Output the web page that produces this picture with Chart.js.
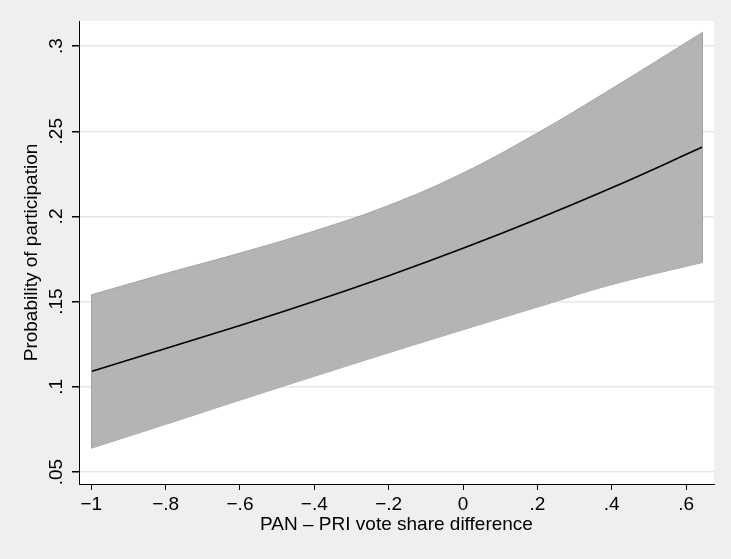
<!DOCTYPE html>
<html>
<head>
<meta charset="utf-8">
<script src="https://cdn.jsdelivr.net/npm/chart.js@4"></script>
<style>
  body { margin: 0; background: #efefef; }
  #wrap { width: 731px; height: 559px; }
</style>
</head>
<body>
<div id="wrap"><canvas id="myChart1" width="731" height="559"></canvas></div>
<script>
// values
const xValues = [-1, -0.8, -0.6, -0.4, -0.2, 0, 0.2, 0.4, 0.644];
const meanProb = [0.109, 0.1225, 0.136, 0.1502, 0.1652, 0.1813, 0.1985, 0.2168, 0.2407];
const upperCI = [0.154, 0.1665, 0.1785, 0.1915, 0.2065, 0.2255, 0.249, 0.275, 0.308];
const lowerCI = [0.064, 0.078, 0.0922, 0.1062, 0.120, 0.1335, 0.1468, 0.160, 0.173];
const xTicks = [-1, -0.8, -0.6, -0.4, -0.2, 0, 0.2, 0.4, 0.6];
const xTickLabels = ['\u22121', '\u2212.8', '\u2212.6', '\u2212.4', '\u2212.2', '0', '.2', '.4', '.6'];
const yTicks = [0.05, 0.1, 0.15, 0.2, 0.25, 0.3];
const yTickLabels = ['.05', '.1', '.15', '.2', '.25', '.3'];

document.addEventListener('DOMContentLoaded', function () {
    const font = "'Liberation Sans', Arial, sans-serif";
    const pts = arr => xValues.map((x, i) => ({ x: x, y: arr[i] }));

    // white plot region behind everything
    const plotBg = {
        id: 'plotBg',
        beforeDraw(chart) {
            const a = chart.chartArea, ctx = chart.ctx;
            ctx.save();
            ctx.fillStyle = '#ffffff';
            ctx.fillRect(a.left, a.top, a.right - a.left, a.bottom - a.top);
            ctx.restore();
        }
    };

    // close the band at both ends, like the rarea outline
    const bandEdges = {
        id: 'bandEdges',
        afterDatasetsDraw(chart) {
            const sx = chart.scales.x, sy = chart.scales.y, ctx = chart.ctx;
            ctx.save();
            ctx.strokeStyle = '#a4a4a4';
            ctx.lineWidth = 1;
            [0, xValues.length - 1].forEach(i => {
                const px = Math.round(sx.getPixelForValue(xValues[i])) + 0.5;
                ctx.beginPath();
                ctx.moveTo(px, sy.getPixelForValue(upperCI[i]));
                ctx.lineTo(px, sy.getPixelForValue(lowerCI[i]));
                ctx.stroke();
            });
            ctx.restore();
        }
    };

    // stata style vertical y tick labels
    const yLabels = {
        id: 'yLabels',
        afterDraw(chart) {
            const s = chart.scales.y, ctx = chart.ctx;
            ctx.save();
            ctx.fillStyle = '#000';
            ctx.font = '19px ' + font;
            ctx.textAlign = 'center';
            ctx.textBaseline = 'alphabetic';
            yTicks.forEach((v, i) => {
                ctx.save();
                ctx.translate(62, s.getPixelForValue(v));
                ctx.rotate(-Math.PI / 2);
                ctx.fillText(yTickLabels[i], 0, 0);
                ctx.restore();
            });
            ctx.restore();
        }
    };

    const config = {
        type: 'line',
        data: {
            datasets: [
                {
                    data: pts(meanProb),
                    borderColor: '#000000',
                    borderWidth: 1.6,
                    pointRadius: 0,
                    tension: 0.4,
                    fill: false
                },
                {
                    data: pts(upperCI),
                    borderColor: '#a4a4a4',
                    borderWidth: 1,
                    backgroundColor: '#b4b4b4',
                    pointRadius: 0,
                    tension: 0.4,
                    fill: '+1'
                },
                {
                    data: pts(lowerCI),
                    borderColor: '#a4a4a4',
                    borderWidth: 1,
                    pointRadius: 0,
                    tension: 0.4,
                    fill: false
                }
            ]
        },
        options: {
            responsive: false,
            animation: false,
            layout: { padding: { left: 0, top: 21, right: 17, bottom: 0 } },
            scales: {
                x: {
                    type: 'linear',
                    min: -1.033,
                    max: 0.675,
                    afterBuildTicks: s => { s.ticks = xTicks.map(v => ({ value: v })); },
                    afterFit: s => { s.height = 75; },
                    grid: { display: true, drawOnChartArea: false, color: '#000', tickColor: '#000', tickLength: 6 },
                    border: { display: true, color: '#000', width: 1 },
                    ticks: {
                        color: '#000',
                        padding: 3,
                        font: { family: font, size: 19 },
                        maxRotation: 0,
                        callback: (v, i) => xTickLabels[i]
                    },
                    title: {
                        display: true,
                        text: 'PAN \u2013 PRI vote share difference',
                        color: '#000',
                        font: { family: font, size: 19 },
                        padding: { top: 0, bottom: 23 }
                    }
                },
                y: {
                    type: 'linear',
                    min: 0.043,
                    max: 0.3147,
                    afterBuildTicks: s => { s.ticks = yTicks.map(v => ({ value: v })); },
                    afterFit: s => { s.width = 79; },
                    grid: { color: '#e8e8e8', lineWidth: 1.5, tickColor: '#000', tickLength: 7 },
                    border: { display: true, color: '#000', width: 1 },
                    ticks: { display: false },
                    title: {
                        display: true,
                        text: 'Probability of participation',
                        color: '#000',
                        font: { family: font, size: 19 },
                        padding: { top: 20, bottom: 0 }
                    }
                }
            },
            plugins: {
                legend: { display: false },
                tooltip: { enabled: false }
            }
        },
        plugins: [plotBg, bandEdges, yLabels]
    };

    new Chart(document.getElementById('myChart1'), config);
});
</script>
</body>
</html>
